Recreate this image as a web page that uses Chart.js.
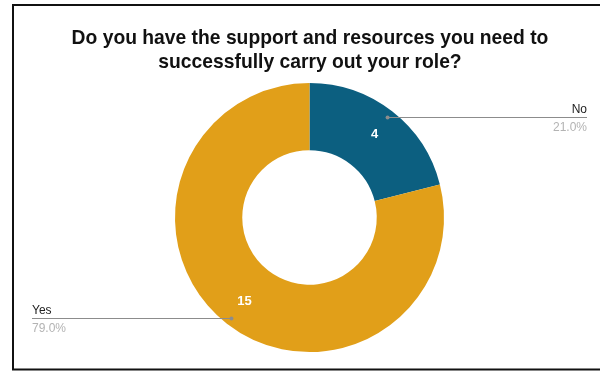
<!DOCTYPE html>
<html>
<head>
<meta charset="utf-8">
<script src="https://cdn.jsdelivr.net/npm/chart.js@4"></script>
<style>
  html, body { margin: 0; padding: 0; background: #fff; }
  #wrap { width: 600px; height: 371px; position: relative; }
</style>
</head>
<body>
<div id="wrap"><canvas id="chart" width="600" height="371"></canvas></div>
<script>
// ── Data ───────────────────────────────────────────────────────────────────
const titleLines = ['Do you have the support and resources you need to', 'successfully carry out your role?'];
const answers    = ['No', 'Yes'];
const counts     = [4, 15];
const shares     = ['21.0%', '79.0%'];
const colors     = ['#0c5f80', '#e19f19'];

const FONT = '"Liberation Sans", Arial, sans-serif';

// ── Frame, title, slice values and leader labels ───────────────────────────
const decorations = {
  id: 'decorations',
  beforeDraw(chart) {
    const ctx = chart.ctx;
    ctx.save();
    ctx.fillStyle = '#fff';
    ctx.fillRect(0, 0, chart.width, chart.height);
    ctx.restore();
  },
  afterDraw(chart) {
    const ctx = chart.ctx;
    ctx.save();

    // outer frame (open on the right)
    ctx.strokeStyle = '#111';
    ctx.lineWidth = 2;
    ctx.beginPath();
    ctx.moveTo(610, 5);
    ctx.lineTo(13, 5);
    ctx.lineTo(13, 369.5);
    ctx.lineTo(610, 369.5);
    ctx.stroke();

    // title
    ctx.fillStyle = '#111';
    ctx.font = `bold 19.3px ${FONT}`;
    ctx.textAlign = 'center';
    ctx.textBaseline = 'alphabetic';
    titleLines.forEach((line, i) => ctx.fillText(line, 310, 44 + i * 24));

    const arcs = chart.getDatasetMeta(0).data;
    arcs.forEach((arc, i) => {
      const p = arc.getProps(['x', 'y', 'startAngle', 'endAngle', 'innerRadius', 'outerRadius'], true);
      const mid = (p.startAngle + p.endAngle) / 2;
      const cos = Math.cos(mid), sin = Math.sin(mid);

      // value inside the slice
      const rv = (p.innerRadius + p.outerRadius) / 2 + 5;
      ctx.fillStyle = '#fff';
      ctx.font = `bold 13px ${FONT}`;
      ctx.textAlign = 'center';
      ctx.textBaseline = 'middle';
      ctx.fillText(String(counts[i]), p.x + cos * rv, p.y + sin * rv);

      // leader line from near the rim to the side label
      const rd = p.outerRadius * 0.945;
      const dx = p.x + cos * rd, dy = Math.round(p.y + sin * rd) + 0.5;
      const right = cos >= 0;
      const endX = right ? 587 : 32;
      ctx.strokeStyle = '#8c8c8c';
      ctx.lineWidth = 1;
      ctx.beginPath();
      ctx.moveTo(dx, dy);
      ctx.lineTo(endX, dy);
      ctx.stroke();
      ctx.fillStyle = '#8c8c8c';
      ctx.beginPath();
      ctx.arc(dx, dy, 2, 0, Math.PI * 2);
      ctx.fill();

      ctx.textAlign = right ? 'right' : 'left';
      ctx.textBaseline = 'middle';
      ctx.font = `12px ${FONT}`;
      ctx.fillStyle = '#222';
      ctx.fillText(answers[i], endX, dy - 8);
      ctx.fillStyle = '#b3b3b3';
      ctx.fillText(shares[i], endX, dy + 10);
    });

    ctx.restore();
  }
};

new Chart(document.getElementById('chart'), {
  type: 'doughnut',
  data: {
    labels: answers,
    datasets: [{
      data: counts,
      backgroundColor: colors,
      borderWidth: 0,
      hoverOffset: 0
    }]
  },
  options: {
    responsive: false,
    animation: false,
    cutout: '50%',
    layout: { padding: { top: 83, bottom: 19, left: 175, right: 156 } },
    plugins: {
      legend: { display: false },
      tooltip: { enabled: false },
      title: { display: false }
    }
  },
  plugins: [decorations]
});
</script>
</body>
</html>
